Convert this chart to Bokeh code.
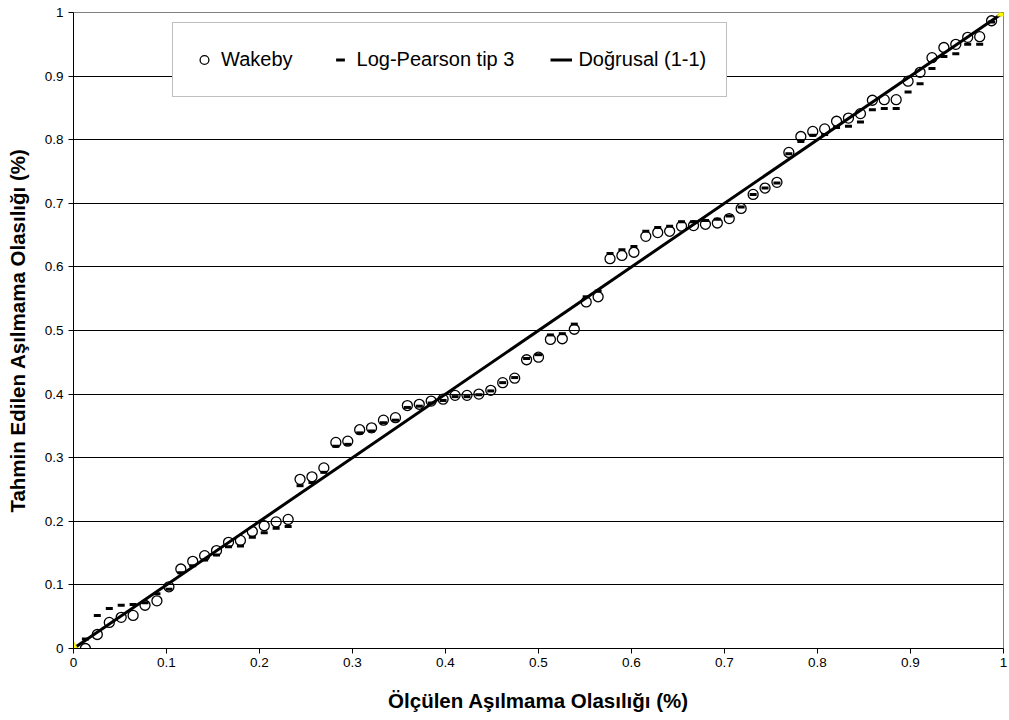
from bokeh.plotting import figure
from bokeh.models import FixedTicker, Legend, LegendItem, ColumnDataSource
from bokeh.embed import file_html
from bokeh.resources import INLINE

# Plotting positions (measured exceedance probability)
olculen = [0.0128, 0.0256, 0.0385, 0.0513, 0.0641, 0.0769, 0.0897, 0.1026, 0.1154, 0.1282,
           0.1410, 0.1538, 0.1667, 0.1795, 0.1923, 0.2051, 0.2179, 0.2308, 0.2436, 0.2564,
           0.2692, 0.2821, 0.2949, 0.3077, 0.3205, 0.3333, 0.3462, 0.3590, 0.3718, 0.3846,
           0.3974, 0.4103, 0.4231, 0.4359, 0.4487, 0.4615, 0.4744, 0.4872, 0.5000, 0.5128,
           0.5256, 0.5385, 0.5513, 0.5641, 0.5769, 0.5897, 0.6026, 0.6154, 0.6282, 0.6410,
           0.6538, 0.6667, 0.6795, 0.6923, 0.7051, 0.7179, 0.7308, 0.7436, 0.7564, 0.7692,
           0.7821, 0.7949, 0.8077, 0.8205, 0.8333, 0.8462, 0.8590, 0.8718, 0.8846, 0.8974,
           0.9103, 0.9231, 0.9359, 0.9487, 0.9615, 0.9744, 0.9872]

wakeby = [0.000, 0.022, 0.041, 0.049, 0.052, 0.068, 0.075, 0.097, 0.125, 0.137,
          0.146, 0.154, 0.167, 0.170, 0.184, 0.193, 0.199, 0.203, 0.266, 0.270,
          0.284, 0.324, 0.326, 0.344, 0.347, 0.359, 0.363, 0.382, 0.384, 0.389,
          0.392, 0.398, 0.398, 0.400, 0.406, 0.418, 0.425, 0.454, 0.458, 0.486,
          0.487, 0.502, 0.545, 0.553, 0.613, 0.618, 0.623, 0.648, 0.654, 0.656,
          0.664, 0.665, 0.667, 0.669, 0.676, 0.692, 0.714, 0.724, 0.733, 0.780,
          0.805, 0.813, 0.817, 0.829, 0.834, 0.841, 0.862, 0.863, 0.863, 0.892,
          0.906, 0.929, 0.945, 0.950, 0.961, 0.962, 0.987]

log_pearson3 = [0.015, 0.052, 0.063, 0.068, 0.069, 0.072, 0.086, 0.093, 0.119, 0.130,
                0.139, 0.147, 0.160, 0.161, 0.175, 0.182, 0.189, 0.192, 0.256, 0.261,
                0.277, 0.318, 0.321, 0.339, 0.342, 0.355, 0.359, 0.379, 0.381, 0.386,
                0.390, 0.396, 0.396, 0.399, 0.405, 0.418, 0.426, 0.456, 0.462, 0.493,
                0.495, 0.510, 0.553, 0.562, 0.621, 0.627, 0.632, 0.656, 0.662, 0.664,
                0.671, 0.671, 0.673, 0.675, 0.680, 0.694, 0.714, 0.724, 0.732, 0.778,
                0.797, 0.807, 0.808, 0.819, 0.821, 0.828, 0.847, 0.849, 0.849, 0.875,
                0.888, 0.912, 0.931, 0.935, 0.950, 0.950, 0.985]

line_x = [0.0, 1.0]
line_y = [0.0, 1.0]

tick_vals = [0.0, 0.1, 0.2, 0.3, 0.4, 0.5, 0.6, 0.7, 0.8, 0.9, 1.0]
tick_labels = ["0", "0.1", "0.2", "0.3", "0.4", "0.5", "0.6", "0.7", "0.8", "0.9", "1"]

FONT = "Liberation Sans"

p = figure(width=1009, height=720, output_backend="svg", toolbar_location=None,
           x_range=(0, 1), y_range=(0, 1),
           min_border_left=73, min_border_right=6, min_border_top=12, min_border_bottom=72)
p.background_fill_color = "white"
p.border_fill_color = "white"
p.outline_line_color = "#808080"
p.outline_line_width = 1

overrides = {v: l for v, l in zip(tick_vals, tick_labels)}
for ax in (p.xaxis[0], p.yaxis[0]):
    ax.ticker = FixedTicker(ticks=tick_vals)
    ax.major_label_overrides = overrides
    ax.major_tick_out = 5
    ax.major_tick_in = 0
    ax.minor_tick_out = 0
    ax.minor_tick_in = 0
    ax.axis_line_color = "black"
    ax.major_tick_line_color = "black"
    ax.major_label_text_font = FONT
    ax.major_label_text_font_size = "13.5px"
    ax.major_label_text_color = "black"
    ax.axis_label_text_font = FONT
    ax.axis_label_text_font_style = "bold"
    ax.axis_label_text_font_size = "20.5px"
    ax.axis_label_text_color = "black"

p.xaxis.axis_label = "Ölçülen Aşılmama Olasılığı (%)"
p.yaxis.axis_label = "Tahmin Edilen Aşılmama Olasılığı (%)"
p.xaxis.major_label_standoff = 4
p.xaxis.axis_label_standoff = 19
p.yaxis.major_label_standoff = 5
p.yaxis.axis_label_standoff = 13

p.xgrid.visible = False
p.ygrid.ticker = FixedTicker(ticks=tick_vals)
p.ygrid.grid_line_color = "black"
p.ygrid.grid_line_width = 1

src = ColumnDataSource(dict(x=olculen, w=wakeby, lp=log_pearson3))

r_line = p.line(line_x, line_y, line_color="black", line_width=3)
r_lp = p.scatter("x", "lp", source=src, marker="dash", size=7, line_color="black", line_width=3)
r_w = p.scatter("x", "w", source=src, marker="circle", size=10, fill_alpha=0,
                line_color="black", line_width=1.3)
p.scatter(line_x, line_y, marker="triangle", size=12, fill_color="#FFFF00", line_color="#E8E800")

legend = Legend(items=[LegendItem(label="Wakeby", renderers=[r_w]),
                       LegendItem(label="Log-Pearson tip 3", renderers=[r_lp]),
                       LegendItem(label="Doğrusal (1-1)", renderers=[r_line])],
                orientation="horizontal", location=(99, 551), margin=0,
                padding=20, spacing=36, label_standoff=6,
                glyph_width=22, glyph_height=33, label_height=20,
                label_text_font=FONT, label_text_font_size="20px", label_text_color="black",
                border_line_color="#808080", border_line_width=1,
                background_fill_color="white", background_fill_alpha=1.0)
p.add_layout(legend)

open("out.html", "w").write(file_html(p, INLINE))
